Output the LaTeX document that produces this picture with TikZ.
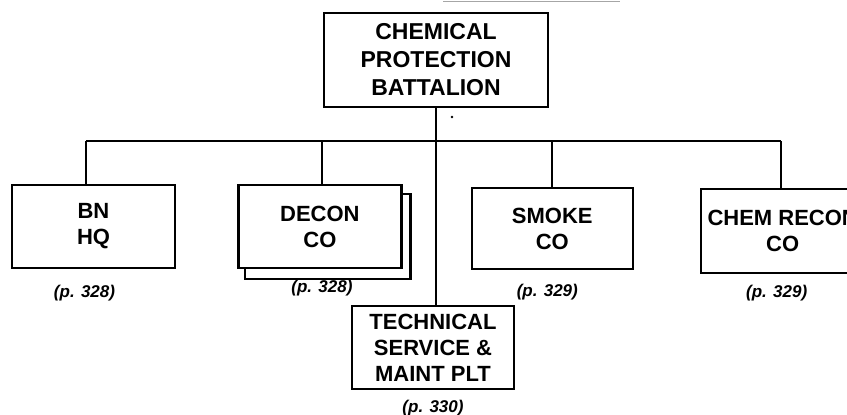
\documentclass[tikz,border=0pt]{standalone}
\usepackage{fontspec}
\setmainfont{Liberation Sans}
\usetikzlibrary{positioning, backgrounds}

\begin{document}
\begin{tikzpicture}[
        x=1pt, y=1pt,
        % Box delle unita': bordo nero spesso, testo grassetto
        box/.style={draw, line width=2.4pt, fill=white, minimum width=163pt, minimum height=83pt, align=center, inner sep=2pt, font=\bfseries\fontsize{22}{26}\selectfont},
        % Riferimenti di pagina sotto i box
        pagelabel/.style={inner sep=0pt, font=\bfseries\itshape\fontsize{17}{20}\selectfont},
        % Linee di collegamento
        link/.style={line width=2pt}
    ]
    \useasboundingbox (0,0) rectangle (847,-415);

    % --- Comando ---
    \node[box, minimum width=224pt, minimum height=94pt, font=\bfseries\fontsize{23}{28}\selectfont] (bn_cmd) at (436,-60) {CHEMICAL\\PROTECTION\\BATTALION};

    % --- Compagnie ---
    \node[box] (bn_hq) at (93.5,-226.5) {BN\\HQ};
    \node[box, right=61pt of bn_hq] (decon_co) {DECON\\CO};
    \node[box, right=68pt of decon_co, yshift=-2pt, minimum width=161pt, minimum height=81pt] (smoke_co) {SMOKE\\CO};
    \node[box, right=66pt of smoke_co, yshift=-2.5pt, minimum height=84pt] (recon_co) {CHEM RECON\\CO};

    % --- Plotone ---
    \node[box, minimum width=162pt] (maint_plt) at (433,-347.5) {TECHNICAL\\SERVICE \&\\MAINT PLT};

    % Secondo foglio dietro DECON CO
    \begin{scope}[on background layer]
        \draw[line width=2.4pt] ([shift={(8pt,-10pt)}]decon_co.south west) rectangle ([shift={(8pt,-10pt)}]decon_co.north east);
    \end{scope}

    % --- Riferimenti di pagina ---
    \node[pagelabel, below=16pt of bn_hq, xshift=-9pt] (pg_hq) {(p. 328)};
    \node[pagelabel, below=11pt of decon_co, xshift=2pt] (pg_decon) {(p. 328)};
    \node[pagelabel, below=14pt of smoke_co, xshift=-5pt] (pg_smoke) {(p. 329)};
    \node[pagelabel, below=11pt of recon_co, xshift=-6pt] (pg_recon) {(p. 329)};
    \node[pagelabel, below=10pt of maint_plt] (pg_maint) {(p. 330)};

    % --- Collegamenti ---
    \coordinate (bus) at (436,-141);
    \draw[link] (bn_cmd.south) -- (maint_plt.north -| bn_cmd.south);
    \draw[link, line width=2.8pt] ([xshift=-7.5pt]bn_hq.north |- bus) -- ([xshift=-1.5pt]recon_co.north |- bus);
    \draw[link] ([xshift=-7.5pt]bn_hq.north |- bus) -- ([xshift=-7.5pt]bn_hq.north);
    \draw[link] ([xshift=2.5pt]decon_co.north |- bus) -- ([xshift=2.5pt]decon_co.north);
    \draw[link] (smoke_co.north |- bus) -- (smoke_co.north);
    \draw[link] ([xshift=-1.5pt]recon_co.north |- bus) -- ([xshift=-1.5pt]recon_co.north);

    % Segni della scansione
    \fill (452,-117) circle (1.3pt);
    \draw[gray!70, line width=1pt] (443,-1.5) -- (620,-1.5);

\end{tikzpicture}
\end{document}
